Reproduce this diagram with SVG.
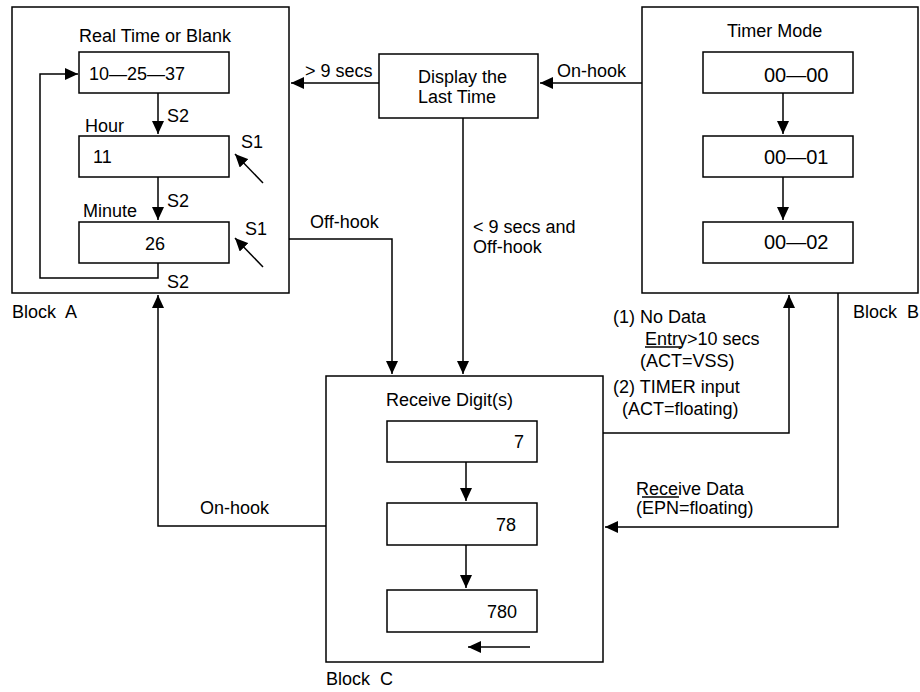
<svg xmlns="http://www.w3.org/2000/svg" width="920" height="692" viewBox="0 0 920 692">
<defs>
<marker id="ah" markerUnits="userSpaceOnUse" markerWidth="13" markerHeight="12" refX="13" refY="6" orient="auto">
<path d="M0,0 L13,6 L0,12 z" fill="#000"/>
</marker>
<style>
rect{fill:#fff;stroke:#000;stroke-width:1.5}
.c path,.in path{fill:none;stroke:#000;stroke-width:1.5}
.a{marker-end:url(#ah)}
text{font-family:"Liberation Sans",Arial,sans-serif;font-size:18px;fill:#000}
.e{text-anchor:end}
.m{text-anchor:middle}
.big{font-size:20px}
.ol{stroke:#000;stroke-width:1.3}
</style>
</defs>
<rect x="0" y="0" width="920" height="692" style="stroke:none;fill:#fff"/>

<g id="blockA">
<rect x="12" y="7" width="277" height="286"/>
<text x="79" y="42">Real Time or Blank</text>
<rect x="79" y="52" width="150" height="41"/>
<text x="89" y="80">10—25—37</text>
<text x="85" y="132">Hour</text>
<rect x="79" y="136" width="150" height="41"/>
<text x="93" y="163">11</text>
<text x="83" y="217">Minute</text>
<rect x="79" y="222" width="150" height="41"/>
<text x="155" y="250" class="m">26</text>
<text x="167" y="122">S2</text>
<text x="167" y="207">S2</text>
<text x="167" y="288">S2</text>
<text x="241" y="148">S1</text>
<text x="245" y="235">S1</text>
<g class="in">
<path class="a" d="M158,93 V134"/>
<path class="a" d="M158,177 V220"/>
<path class="a" d="M158,263 V278 H40 V74 H78"/>
<path class="a" d="M263,183 L235,154"/>
<path class="a" d="M263,267 L235,238"/>
</g>
<text x="12" y="318" xml:space="preserve">Block  A</text>
</g>

<g id="display">
<rect x="379" y="54" width="159" height="64"/>
<text x="418" y="83">Display the</text>
<text x="418" y="103">Last Time</text>
</g>

<g id="blockB">
<rect x="642" y="7" width="276" height="286"/>
<text x="727" y="37">Timer Mode</text>
<rect x="703" y="52" width="150" height="41"/>
<text x="764" y="82" class="big">00—00</text>
<rect x="703" y="136" width="150" height="41"/>
<text x="764" y="164" class="big">00—01</text>
<rect x="703" y="222" width="150" height="41"/>
<text x="764" y="249" class="big">00—02</text>
<g class="in">
<path class="a" d="M783,93 V134"/>
<path class="a" d="M783,177 V220"/>
</g>
<text x="853" y="318" xml:space="preserve">Block  B</text>
</g>

<g id="blockC">
<rect x="326" y="376" width="277" height="286"/>
<text x="386" y="406">Receive Digit(s)</text>
<rect x="387" y="421" width="150" height="41"/>
<text x="524" y="448" class="e">7</text>
<rect x="387" y="503" width="150" height="42"/>
<text x="516" y="531" class="e">78</text>
<rect x="387" y="590" width="150" height="42"/>
<text x="517" y="618" class="e">780</text>
<g class="in">
<path class="a" d="M466,462 V501"/>
<path class="a" d="M466,545 V588"/>
<path class="a" d="M530,647 H468"/>
</g>
<text x="326" y="685" xml:space="preserve">Block  C</text>
</g>

<g id="connectors" class="c">
<path class="a" d="M379,83 H291"/>
<path class="a" d="M642,83 H540"/>
<path class="a" d="M463,118 V374"/>
<path class="a" d="M289,239 H392 V374"/>
<path class="a" d="M326,526 H158 V295"/>
<path class="a" d="M603,433 H789 V295"/>
<path class="a" d="M838,293 V527 H605"/>
</g>

<g id="labels">
<text x="305" y="77">&gt; 9 secs</text>
<text x="557" y="77">On-hook</text>
<text x="310" y="228">Off-hook</text>
<text x="473" y="233">&lt; 9 secs and</text>
<text x="473" y="253">Off-hook</text>
<text x="200" y="514">On-hook</text>
<text x="613" y="323">(1) No Data</text>
<text x="645" y="345">Entry&gt;10 secs</text>
<text x="640" y="367">(ACT=VSS)</text>
<line class="ol" x1="645" y1="347" x2="681" y2="347"/>
<text x="613" y="393">(2) TIMER input</text>
<text x="622" y="415">(ACT=floating)</text>
<text x="636" y="495">Receive Data</text>
<text x="636" y="514">(EPN=floating)</text>
<line class="ol" x1="642" y1="497" x2="679" y2="497"/>
</g>
</svg>
